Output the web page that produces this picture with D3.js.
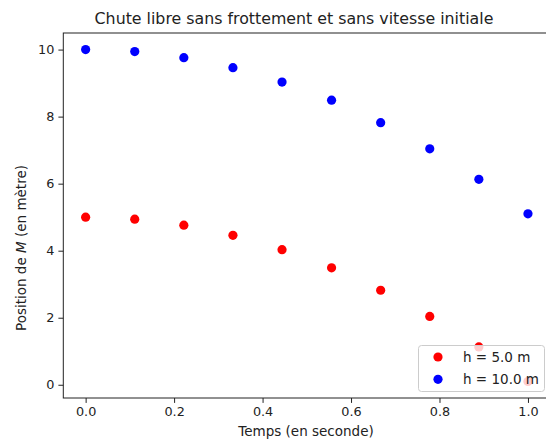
<!DOCTYPE html>
<html>
<head>
<meta charset="utf-8">
<script src="https://cdn.jsdelivr.net/npm/d3@7"></script>
<style>
  html, body { margin: 0; padding: 0; background: #fff; }
  svg { display: block; font-family: "DejaVu Sans", sans-serif; }
</style>
</head>
<body>
<svg id="chart" width="546" height="439"></svg>
<script>
// Sampling instants (s)
const temps = [0, 0.111, 0.222, 0.333, 0.444, 0.556, 0.667, 0.778, 0.889, 1.0];
// Position of M (m) for each drop height
const positionH5 = [5.0, 4.94, 4.76, 4.46, 4.03, 3.49, 2.82, 2.04, 1.13, 0.10];
const positionH10 = [10.0, 9.94, 9.76, 9.46, 9.03, 8.49, 7.82, 7.04, 6.13, 5.10];
const seriesLabels = ["h = 5.0 m", "h = 10.0 m"];
const seriesColors = ["#ff0000", "#0000ff"];
const xTicks = [0.0, 0.2, 0.4, 0.6, 0.8, 1.0];
const yTicks = [0, 2, 4, 6, 8, 10];

const svg = d3.select("#chart");
const plotLeft = 63.3, plotRight = 550.3, plotTop = 33, plotBottom = 398;

const x = d3.scaleLinear().domain([-0.0505, 1.0505]).range([plotLeft, plotRight]);
const y = d3.scaleLinear().domain([-0.395, 10.495]).range([plotBottom, plotTop]);

// Axes
const xAxis = d3.axisBottom(x).tickValues(xTicks).tickFormat(d3.format(".1f")).tickSizeOuter(0).tickSize(4.9).tickPadding(4);
const yAxis = d3.axisLeft(y).tickValues(yTicks).tickFormat(d3.format("d")).tickSizeOuter(0).tickSize(4.9).tickPadding(4);

const gx = svg.append("g").attr("transform", `translate(0,${plotBottom})`).call(xAxis);
const gy = svg.append("g").attr("transform", `translate(${plotLeft},0)`).call(yAxis);
[gx, gy].forEach(g => {
  g.selectAll("text").attr("font-size", "12.8px").attr("fill", "#222").attr("font-family", "DejaVu Sans, sans-serif");
  g.selectAll("line").attr("stroke", "#222").attr("stroke-width", 1);
  g.select(".domain").remove();
});

// Spines
svg.append("rect")
  .attr("x", plotLeft).attr("y", plotTop)
  .attr("width", plotRight - plotLeft).attr("height", plotBottom - plotTop)
  .attr("fill", "none").attr("stroke", "#222").attr("stroke-width", 1);

// Points
const series = [positionH5, positionH10];
series.forEach((vals, i) => {
  svg.append("g").selectAll("circle")
    .data(vals)
    .join("circle")
    .attr("cx", (d, j) => x(temps[j]))
    .attr("cy", d => y(d))
    .attr("r", 4.6)
    .attr("fill", seriesColors[i]);
});

// Title
svg.append("text")
  .attr("x", 294).attr("y", 24)
  .attr("text-anchor", "middle")
  .attr("font-size", "15.8px")
  .attr("fill", "#222")
  .text("Chute libre sans frottement et sans vitesse initiale");

// Axis labels
svg.append("text")
  .attr("x", 306).attr("y", 436)
  .attr("text-anchor", "middle")
  .attr("font-size", "13.5px")
  .attr("fill", "#222")
  .text("Temps (en seconde)");

const yl = svg.append("text")
  .attr("transform", "translate(26,248) rotate(-90)")
  .attr("text-anchor", "middle")
  .attr("font-size", "13.5px")
  .attr("fill", "#222");
yl.append("tspan").text("Position de ");
yl.append("tspan").attr("font-style", "italic").text("M");
yl.append("tspan").text(" (en mètre)");

// Legend
const lg = svg.append("g");
lg.append("rect")
  .attr("x", 418.5).attr("y", 345.5)
  .attr("width", 126).attr("height", 46)
  .attr("rx", 3)
  .attr("fill", "#ffffff").attr("fill-opacity", 0.8)
  .attr("stroke", "#cccccc").attr("stroke-width", 1);
seriesLabels.forEach((lab, i) => {
  const cy = 357 + i * 22.3;
  lg.append("circle").attr("cx", 438).attr("cy", cy).attr("r", 4.6).attr("fill", seriesColors[i]);
  lg.append("text").attr("x", 463).attr("y", cy + 4.8)
    .attr("font-size", "13.5px").attr("fill", "#222").text(lab);
});
</script>
</body>
</html>
